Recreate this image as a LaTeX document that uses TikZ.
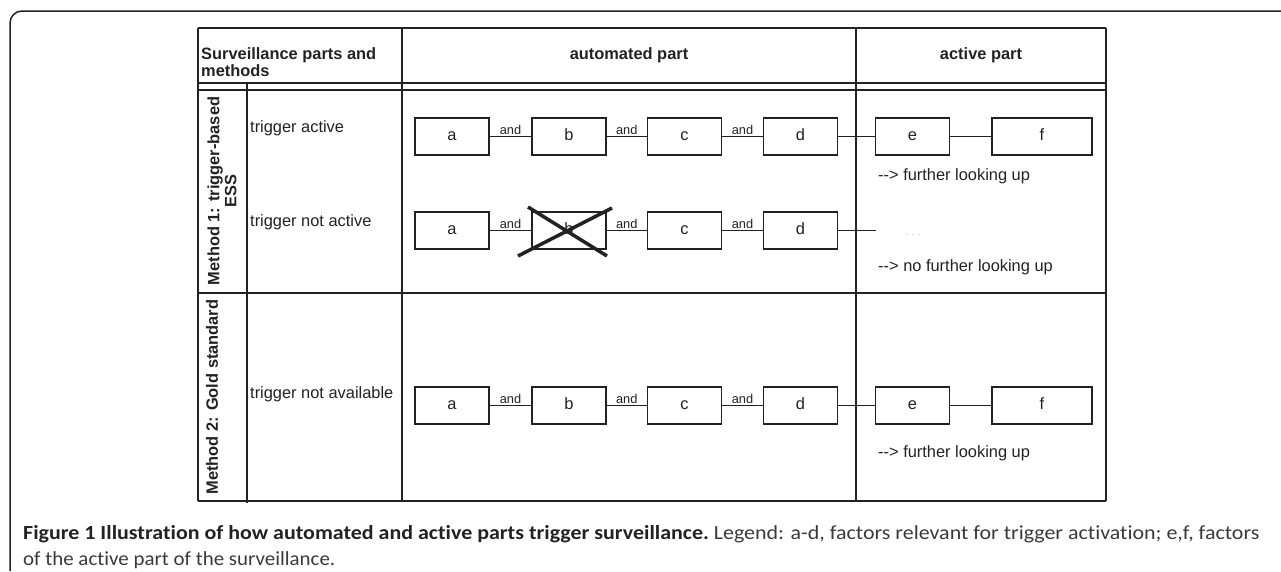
\documentclass[tikz,border=0pt]{standalone}
\usepackage{fontspec}
\usepackage{graphicx}
\setmainfont{Liberation Sans}
\newfontfamily\capfont[Ligatures={NoCommon}]{Carlito}
\definecolor{ink}{HTML}{222222}
\definecolor{capgray}{HTML}{3A3A3A}
\begin{document}
\begin{tikzpicture}[x=1pt,y=1pt,
  tline/.style={draw=ink,line width=1.3pt},
  thick line/.style={draw=ink,line width=2pt},
  fbox/.style={draw=ink,line width=1.2pt,minimum width=74pt,minimum height=37pt,inner sep=0pt,text height=11.8pt,text depth=3.3pt,font=\fontsize{16.4}{19}\selectfont,text=ink},
  wbox/.style={fbox,minimum width=100pt},
  conn/.style={draw=ink,line width=1.2pt},
  andlbl/.style={font=\fontsize{12.8}{14}\selectfont,text=ink,inner sep=1.5pt,anchor=south},
  txt/.style={font=\fontsize{16.4}{19}\selectfont,text=ink,inner sep=0pt},
  hdr/.style={font=\fontsize{16.4}{17}\selectfont\bfseries,text=ink,inner sep=0pt}]
\useasboundingbox (0,0) rectangle (1281,-571);
% outer frame
\draw[draw=ink,line width=1.5pt,rounded corners=12pt] (10,-571) -- (10,-11) -- (1282,-11);
% table lines
\draw[tline] (198,-28) -- (1106,-28);
\draw[tline] (198,-83) -- (1106,-83);
\draw[tline] (198,-90) -- (1106,-90);
\draw[thick line] (198,-293) -- (1106,-293);
\draw[tline] (198,-501) -- (1106,-501);
\draw[tline] (198,-28) -- (198,-501);
\draw[thick line] (247,-83) -- (247,-503);
\draw[tline] (402,-28) -- (402,-501);
\draw[thick line] (856,-28) -- (856,-501);
\draw[tline] (1106,-28) -- (1106,-501);
% headers
\node[hdr,anchor=base west,align=left] (h1) at (201,-76) {Surveillance parts and\\methods};
\node[hdr,anchor=base] (h2) at (629,-59) {automated part};
\node[hdr,anchor=base] (h3) at (981,-59) {active part};
% method labels
\node[hdr,rotate=90,align=center] (m1) at (222,-191) {Method 1: trigger-based\\ESS};
\node[hdr,rotate=90] (m2) at (212,-397) {Method 2: Gold standard};
% row texts
\node[txt,anchor=west] (t1) at (250,-128) {trigger active};
\node[txt,anchor=west] (t2) at (250,-222) {trigger not active};
\node[txt,anchor=west] (t3) at (250,-394) {trigger not available};
% row 1
\node[fbox] (a1) at (452,-136.5) {a};
\node[fbox] (b1) at (569,-136.5) {b};
\node[fbox] (c1) at (684.5,-136.5) {c};
\node[fbox] (d1) at (800.5,-136.5) {d};
\node[fbox] (e1) at (912.5,-136.5) {e};
\node[wbox] (f1) at (1042,-136.5) {f};
\draw[conn] (a1) -- node[andlbl] {and} (b1);
\draw[conn] (b1) -- node[andlbl] {and} (c1);
\draw[conn] (c1) -- node[andlbl] {and} (d1);
\draw[conn] (d1) -- (e1);
\draw[conn] (e1) -- (f1);
\node[txt,anchor=west] (r1) at (878,-176) {{-}{-}> further looking up};
% row 2
\node[fbox] (a2) at (452,-230.5) {a};
\node[fbox] (b2) at (569,-230.5) {b};
\node[fbox] (c2) at (684.5,-230.5) {c};
\node[fbox] (d2) at (800.5,-230.5) {d};
\coordinate (x2) at (876,-230.5);
\draw[conn] (a2) -- node[andlbl] {and} (b2);
\draw[conn] (b2) -- node[andlbl] {and} (c2);
\draw[conn] (c2) -- node[andlbl] {and} (d2);
\draw[conn,line width=1.8pt] (d2) -- (x2);
\draw[draw=ink,line width=3.5pt] (528,-207) -- (607,-256);
\draw[draw=ink,line width=3.5pt] (612,-208) -- (518,-256);
\node[font=\fontsize{9}{10}\selectfont,text=black!35,inner sep=0pt] (dots) at (913,-235) {. . .};
\node[txt,anchor=west] (r2) at (878,-267) {{-}{-}> no further looking up};
% row 3
\node[fbox] (a3) at (452,-405.5) {a};
\node[fbox] (b3) at (569,-405.5) {b};
\node[fbox] (c3) at (684.5,-405.5) {c};
\node[fbox] (d3) at (800.5,-405.5) {d};
\node[fbox] (e3) at (912.5,-405.5) {e};
\node[wbox] (f3) at (1042,-405.5) {f};
\draw[conn] (a3) -- node[andlbl] {and} (b3);
\draw[conn] (b3) -- node[andlbl] {and} (c3);
\draw[conn] (c3) -- node[andlbl] {and} (d3);
\draw[conn] (d3) -- (e3);
\draw[conn] (e3) -- (f3);
\node[txt,anchor=west] (r3) at (878,-453) {{-}{-}> further looking up};
% caption
\node[anchor=base west,inner sep=0pt] (cap1) at (23,-539) {\resizebox{1236pt}{\height}{\capfont\fontsize{20}{24}\selectfont\color{ink}\textbf{Figure 1 Illustration of how automated and active parts trigger surveillance.}\color{capgray}\ Legend: a-d, factors relevant for trigger activation; e,f, factors}};
\node[anchor=base west,inner sep=0pt] (cap2) at (23,-565) {\resizebox{312pt}{\height}{\capfont\fontsize{20}{24}\selectfont\color{capgray}of the active part of the surveillance.}};
\end{tikzpicture}
\end{document}
